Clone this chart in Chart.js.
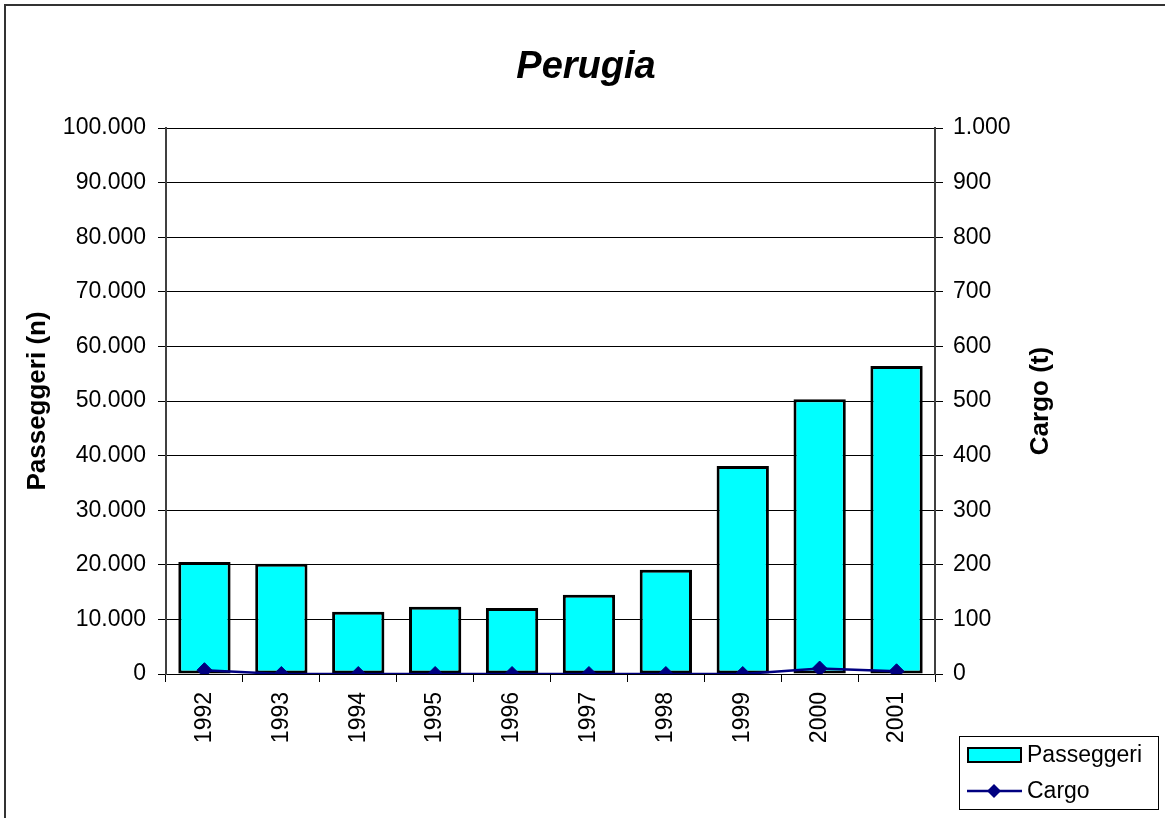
<!DOCTYPE html>
<html>
<head>
<meta charset="utf-8">
<title>Perugia</title>
<script src="https://cdn.jsdelivr.net/npm/chart.js@4.4.1/dist/chart.umd.min.js"></script>
<style>
    html, body { margin: 0; padding: 0; background: #fff; }
    #chart { display: block; }
</style>
</head>
<body>
<canvas id="chart" width="1165" height="818"></canvas>
<script>
// Data
const years = ['1992', '1993', '1994', '1995', '1996', '1997', '1998', '1999', '2000', '2001'];
const passeggeri = [20500, 20200, 11400, 12300, 12100, 14500, 19100, 38100, 50300, 56400];
const cargo = [7, 0, 0, 0, 0, 0, 0, 0, 10, 5];

const FONT = "'Liberation Sans', Arial, sans-serif";

/**
 * Italian thousands separator (100.000)
 */
function fmt(v) {
    return String(v).replace(/\B(?=(\d{3})+(?!\d))/g, '.');
}

// Frame, title, right axis title (reads bottom-to-top) and boxed legend
const framePlugin = {
    id: 'frame',
    afterDraw(chart) {
        const ctx = chart.ctx;
        const area = chart.chartArea;
        ctx.save();
        ctx.strokeStyle = '#333';
        ctx.lineWidth = 2;
        ctx.beginPath();
        ctx.moveTo(5, 1000);
        ctx.lineTo(5, 5);
        ctx.lineTo(1400, 5);
        ctx.stroke();

        // chart title
        ctx.fillStyle = '#000';
        ctx.font = 'italic bold 38px ' + FONT;
        ctx.textAlign = 'center';
        ctx.textBaseline = 'middle';
        ctx.fillText('Perugia', 586, 68);

        // right axis title
        ctx.save();
        ctx.translate(1041, (area.top + area.bottom) / 2);
        ctx.rotate(-Math.PI / 2);
        ctx.font = 'bold 26px ' + FONT;
        ctx.fillText('Cargo (t)', 0, 0);
        ctx.restore();

        // legend box
        ctx.lineWidth = 1;
        ctx.strokeStyle = '#000';
        ctx.fillStyle = '#fff';
        ctx.fillRect(959, 736, 199, 73);
        ctx.strokeRect(959.5, 736.5, 199, 73);

        const bar = chart.data.datasets[0];
        const line = chart.data.datasets[1];

        ctx.fillStyle = bar.backgroundColor;
        ctx.fillRect(968, 748, 53, 14);
        ctx.lineWidth = 2;
        ctx.strokeStyle = bar.borderColor;
        ctx.strokeRect(968, 748, 53, 14);

        ctx.strokeStyle = line.borderColor;
        ctx.lineWidth = 2.5;
        ctx.beginPath();
        ctx.moveTo(967, 791);
        ctx.lineTo(1022, 791);
        ctx.stroke();
        ctx.fillStyle = line.pointBackgroundColor;
        ctx.beginPath();
        ctx.moveTo(994, 784);
        ctx.lineTo(1001, 791);
        ctx.lineTo(994, 798);
        ctx.lineTo(987, 791);
        ctx.closePath();
        ctx.fill();

        ctx.fillStyle = '#000';
        ctx.font = '23px ' + FONT;
        ctx.textBaseline = 'middle';
        ctx.textAlign = 'left';
        ctx.fillText(bar.label, 1027, 756);
        ctx.fillText(line.label, 1027, 792);
        ctx.restore();
    }
};

const ctx = document.getElementById('chart');

new Chart(ctx, {
    type: 'bar',
    data: {
        labels: years,
        datasets: [{
            label: 'Passeggeri',
            data: passeggeri,
            yAxisID: 'y',
            backgroundColor: '#00FFFF',
            borderColor: '#000000',
            borderWidth: 3,
            borderSkipped: false,
            barPercentage: 0.68,
            categoryPercentage: 1.0,
            order: 2
        }, {
            type: 'line',
            label: 'Cargo',
            data: cargo,
            yAxisID: 'y1',
            borderColor: '#000080',
            backgroundColor: '#000080',
            borderWidth: 2.5,
            pointStyle: 'rectRot',
            pointRadius: 7.5,
            pointBorderWidth: 1,
            pointBackgroundColor: '#000080',
            pointBorderColor: '#000080',
            tension: 0,
            order: 1
        }]
    },
    options: {
        responsive: false,
        animation: false,
        layout: {
            padding: { left: 18, right: 104, top: 128, bottom: 10 }
        },
        plugins: {
            legend: { display: false },
            tooltip: { enabled: false },
            title: { display: false }
        },
        scales: {
            x: {
                offset: true,
                grid: {
                    offset: true,
                    drawOnChartArea: false,
                    drawTicks: true,
                    tickLength: 8,
                    tickColor: '#000'
                },
                border: { display: true, color: '#000', width: 1 },
                ticks: {
                    color: '#000',
                    font: { family: FONT, size: 23 },
                    minRotation: 90,
                    maxRotation: 90,
                    autoSkip: false,
                    padding: 10
                },
                afterFit(scale) { scale.height = 134; }
            },
            y: {
                position: 'left',
                min: 0,
                max: 100000,
                grid: {
                    color: '#000',
                    lineWidth: 1,
                    tickLength: 8,
                    tickColor: '#000'
                },
                border: { display: true, color: '#404040', width: 2 },
                ticks: {
                    stepSize: 10000,
                    color: '#000',
                    padding: 12,
                    font: { family: FONT, size: 23 },
                    callback: function(value) { return fmt(value); }
                },
                title: {
                    display: true,
                    text: 'Passeggeri (n)',
                    color: '#000',
                    font: { family: FONT, size: 26, weight: 'bold' }
                },
                afterFit(scale) { scale.width = 148; }
            },
            y1: {
                position: 'right',
                min: 0,
                max: 1000,
                grid: {
                    drawOnChartArea: false,
                    tickLength: 8,
                    tickColor: '#000'
                },
                border: { display: true, color: '#404040', width: 2 },
                ticks: {
                    stepSize: 100,
                    color: '#000',
                    padding: 10,
                    font: { family: FONT, size: 23 },
                    callback: function(value) { return fmt(value); }
                },
                title: { display: false },
                afterFit(scale) { scale.width = 126; }
            }
        }
    },
    plugins: [framePlugin]
});
</script>
</body>
</html>
